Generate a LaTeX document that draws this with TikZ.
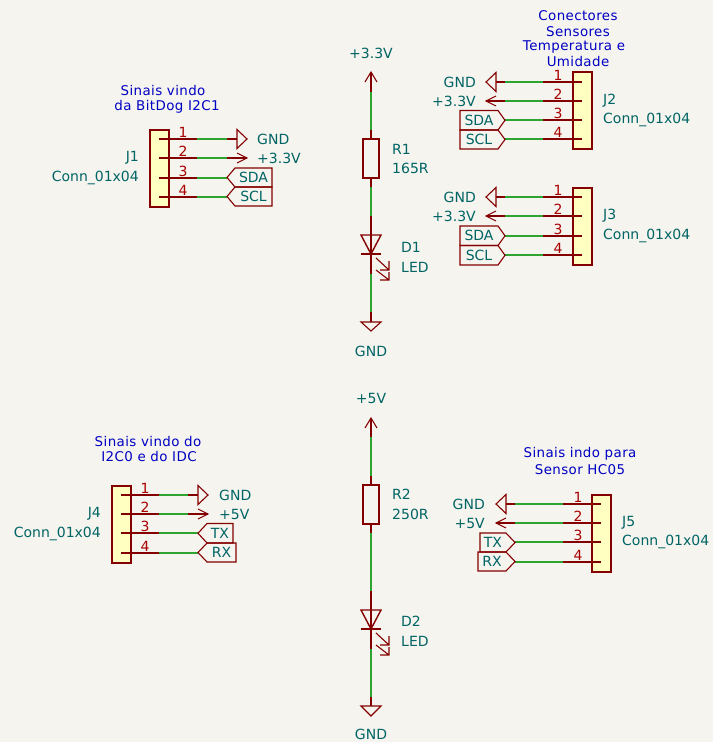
\documentclass[tikz,border=0pt]{standalone}
\usepackage{fontspec}
\setmainfont{DejaVu Sans}
\newfontfamily\notefont[LetterSpace=3]{DejaVu Sans}
\definecolor{bgc}{HTML}{F5F4EF}
\definecolor{sym}{HTML}{840000}
\definecolor{wirec}{HTML}{2FA32F}
\definecolor{txt}{HTML}{006464}
\definecolor{note}{HTML}{0000C2}
\definecolor{pinn}{HTML}{A90000}
\definecolor{bodyf}{HTML}{FFFFC2}
\tikzset{
  lab/.style={text=txt,font=\fontsize{14}{14}\selectfont,inner sep=0pt},
  notetext/.style={text=note,font=\notefont\fontsize{13.4}{14}\selectfont,inner sep=0pt},
  pinnum/.style={text=pinn,font=\fontsize{14}{14}\selectfont,inner sep=0pt},
  symline/.style={draw=sym,line width=1.1pt,line join=miter},
  wire/.style={draw=wirec,line width=1.1pt},
  connbody/.style={draw=sym,fill=bodyf,line width=2pt,minimum width=19pt,minimum height=77pt,inner sep=0pt},
  resbody/.style={draw=sym,line width=1.7pt,minimum width=16pt,minimum height=39pt,inner sep=0pt},
}
% name, n, edge x, y, green-x1, green-x2, end x, stub x, num x
\newcommand\pinrun[9]{%
  \coordinate (#1p#2) at (#3,#4);
  \coordinate (#1s#2) at (#8,#4);
  \coordinate (#1a#2) at (#5,#4);
  \coordinate (#1b#2) at (#6,#4);
  \coordinate (#1e#2) at (#7,#4);
  \draw[symline] (#1s#2) -- (#1p#2);
  \draw[symline] (#1p#2) -- (#1a#2);
  \draw[wire] (#1a#2) -- (#1b#2);
  \draw[symline] (#1b#2) -- (#1e#2);
  \node[pinnum] (#1n#2) at (#9,{#4-7}) {#2};
}
\newcommand\gndside[4]{\draw[symline] (#2,{#3-9.5}) -- ({#2+#4*10},#3) -- (#2,{#3+9.5}) -- cycle;}
\newcommand\vccside[4]{\draw[symline] (#2,{#3-5}) -- ({#2+#4*10},#3) -- (#2,{#3+5}) (#2,#3) -- ({#2+#4*10},#3);}
\newcommand\tagleft[6]{%
  \draw[symline] (#1,{(#4+#5)/2}) -- (#2,#4) -- (#3,#4) -- (#3,#5) -- (#2,#5) -- cycle;
  \node[lab] at ({(#2+#3)/2},{(#4+#5)/2}) {#6};}
\newcommand\tagright[6]{%
  \draw[symline] (#1,#4) -- (#2,#4) -- (#3,{(#4+#5)/2}) -- (#2,#5) -- (#1,#5) -- cycle;
  \node[lab] at ({(#1+#2)/2},{(#4+#5)/2}) {#6};}
\begin{document}
\begin{tikzpicture}[x=1pt,y=-1pt]
\useasboundingbox[fill=bgc] (0,0) rectangle (713,742);

% ---- J1
\node[connbody] (J1) at (159.5,168) {};
\pinrun{J1}{1}{169}{139}{197}{227}{237}{159}{183}
\pinrun{J1}{2}{169}{158}{197}{227}{247}{159}{183}
\pinrun{J1}{3}{169}{178}{197}{227}{227}{159}{183}
\pinrun{J1}{4}{169}{197}{197}{227}{227}{159}{183}
\gndside{}{237}{139}{1}
\vccside{}{237}{158}{1}
\tagleft{227}{235}{272}{168}{187}{SDA}
\tagleft{227}{235}{272}{187}{206}{SCL}
\node[lab,anchor=west] (J1g) at (257,139) {GND};
\node[lab,anchor=west] (J1v) at (257,158) {+3.3V};
\node[lab,anchor=east] (J1r) at (139,158) {J1};
\node[lab,anchor=east] (J1t) at (139,178) {Conn\_01x04};
\node[notetext] (N1a) at (163,91) {Sinais vindo};
\node[notetext] (N1b) at (167,107) {da BitDog I2C1};

% ---- J2
\node[connbody] (J2) at (582,110.5) {};
\pinrun{J2}{1}{572}{82}{543}{505}{496}{582}{558}
\pinrun{J2}{2}{572}{101}{543}{505}{486}{582}{558}
\pinrun{J2}{3}{572}{120}{543}{505}{505}{582}{558}
\pinrun{J2}{4}{572}{139}{543}{505}{505}{582}{558}
\gndside{}{496}{82}{-1}
\vccside{}{496}{101}{-1}
\tagright{460}{498}{505}{110.5}{130}{SDA}
\tagright{460}{498}{505}{130}{149}{SCL}
\node[lab,anchor=east] (J2g) at (476,82) {GND};
\node[lab,anchor=east] (J2v) at (476,101) {+3.3V};
\node[lab,anchor=west] (J2r) at (603,101) {J2};
\node[lab,anchor=west] (J2t) at (603,120) {Conn\_01x04};
\node[notetext] (N2a) at (578,16) {Conectores};
\node[notetext] (N2b) at (578,32) {Sensores};
\node[notetext] (N2c) at (574,47) {Temperatura e};
\node[notetext] (N2d) at (578,62) {Umidade};

% ---- J3
\node[connbody] (J3) at (582,226) {};
\pinrun{J3}{1}{572}{197}{543}{505}{496}{582}{558}
\pinrun{J3}{2}{572}{216}{543}{505}{486}{582}{558}
\pinrun{J3}{3}{572}{236}{543}{505}{505}{582}{558}
\pinrun{J3}{4}{572}{255}{543}{505}{505}{582}{558}
\gndside{}{496}{197}{-1}
\vccside{}{496}{216}{-1}
\tagright{460}{498}{505}{226}{245.5}{SDA}
\tagright{460}{498}{505}{245.5}{265}{SCL}
\node[lab,anchor=east] (J3g) at (476,197) {GND};
\node[lab,anchor=east] (J3v) at (476,216) {+3.3V};
\node[lab,anchor=west] (J3r) at (603,216) {J3};
\node[lab,anchor=west] (J3t) at (603,236) {Conn\_01x04};

% ---- J4
\node[connbody] (J4) at (121,524) {};
\pinrun{J4}{1}{131}{495}{159}{188}{198}{121}{145}
\pinrun{J4}{2}{131}{514}{159}{188}{208}{121}{145}
\pinrun{J4}{3}{131}{533}{159}{198}{198}{121}{145}
\pinrun{J4}{4}{131}{553}{159}{198}{198}{121}{145}
\gndside{}{198}{495}{1}
\vccside{}{198}{514}{1}
\tagleft{198}{207}{233}{523.5}{543}{TX}
\tagleft{198}{207}{236}{543}{562}{RX}
\node[lab,anchor=west] (J4g) at (219,495) {GND};
\node[lab,anchor=west] (J4v) at (219,514) {+5V};
\node[lab,anchor=east] (J4r) at (101,514) {J4};
\node[lab,anchor=east] (J4t) at (101,534) {Conn\_01x04};
\node[notetext] (N4a) at (148,441) {Sinais vindo do};
\node[notetext] (N4b) at (149,456) {I2C0 e do IDC};

% ---- J5
\node[connbody] (J5) at (601,533.5) {};
\pinrun{J5}{1}{591}{504}{563}{515}{506}{601}{578}
\pinrun{J5}{2}{591}{523}{563}{515}{496}{601}{578}
\pinrun{J5}{3}{591}{542}{563}{515}{515}{601}{578}
\pinrun{J5}{4}{591}{562}{563}{515}{515}{601}{578}
\gndside{}{506}{504}{-1}
\vccside{}{506}{523}{-1}
\tagright{480}{506}{515}{533}{552}{TX}
\tagright{478}{506}{515}{552}{571}{RX}
\node[lab,anchor=east] (J5g) at (485,504) {GND};
\node[lab,anchor=east] (J5v) at (485,523) {+5V};
\node[lab,anchor=west] (J5r) at (622,523) {J5};
\node[lab,anchor=west] (J5t) at (622,542) {Conn\_01x04};
\node[notetext] (N5a) at (580,454) {Sinais indo para};
\node[notetext] (N5b) at (580,470) {Sensor HC05};

% ---- R1 / D1
\node[resbody] (R1) at (371,158.5) {};
\coordinate (A1) at (371,72);
\coordinate (A2) at (371,92);
\coordinate (A3) at (371,130);
\coordinate (A4) at (371,187);
\coordinate (A5) at (371,216);
\coordinate (A6) at (371,254);
\coordinate (A7) at (371,274);
\coordinate (A8) at (371,312);
\coordinate (A9) at (371,322);
\draw[symline] (A1) -- (A2);
\draw[wire] (A2) -- (A3);
\draw[symline] (A3) -- (R1.north);
\draw[symline] (R1.south) -- (A4);
\draw[wire] (A4) -- (A5);
\draw[symline] (A5) -- (A6);
\draw[symline] (A6) -- (A7);
\draw[wire] (A7) -- (A8);
\draw[symline] (A8) -- (A9);
\draw[symline] (365,82) -- (371,72) -- (377,82);
\draw[symline,line width=1.4pt] (361,235) -- (381,235) -- (371,254) -- cycle;
\draw[symline,line width=1.4pt] (361,254) -- (381,254);
\draw[symline] (376,258) -- (389,270) (389,261) -- (389,270) -- (380,270);
\draw[symline] (376,270) -- (389,280) (389,272) -- (389,280) -- (380,280);
\draw[symline] (361,322) -- (381,322) -- (371,331) -- cycle;
\node[lab] (P1) at (371,53) {+3.3V};
\node[lab,anchor=west] (R1r) at (392,149) {R1};
\node[lab,anchor=west] (R1v) at (392,168) {165R};
\node[lab,anchor=west] (D1r) at (401,247) {D1};
\node[lab,anchor=west] (D1v) at (401,267) {LED};
\node[lab] (G1) at (371,351) {GND};

% ---- R2 / D2
\node[resbody] (R2) at (371,504.5) {};
\coordinate (B1) at (371,418);
\coordinate (B2) at (371,437);
\coordinate (B3) at (371,476);
\coordinate (B4) at (371,533);
\coordinate (B5) at (371,591);
\coordinate (B6) at (371,629);
\coordinate (B7) at (371,649);
\coordinate (B8) at (371,697);
\coordinate (B9) at (371,706);
\draw[symline] (B1) -- (B2);
\draw[wire] (B2) -- (B3);
\draw[symline] (B3) -- (R2.north);
\draw[symline] (R2.south) -- (B4);
\draw[wire] (B4) -- (B5);
\draw[symline] (B5) -- (B6);
\draw[symline] (B6) -- (B7);
\draw[wire] (B7) -- (B8);
\draw[symline] (B8) -- (B9);
\draw[symline] (365,428) -- (371,418) -- (377,428);
\draw[symline,line width=1.4pt] (361,610) -- (381,610) -- (371,629) -- cycle;
\draw[symline,line width=1.4pt] (361,629) -- (381,629);
\draw[symline] (376,633) -- (389,645) (389,636) -- (389,645) -- (380,645);
\draw[symline] (376,645) -- (389,655) (389,647) -- (389,655) -- (380,655);
\draw[symline] (361,706) -- (381,706) -- (371,716) -- cycle;
\node[lab] (P2) at (371,398) {+5V};
\node[lab,anchor=west] (R2r) at (392,494) {R2};
\node[lab,anchor=west] (R2v) at (392,514) {250R};
\node[lab,anchor=west] (D2r) at (401,621) {D2};
\node[lab,anchor=west] (D2v) at (401,641) {LED};
\node[lab] (G2) at (371,734) {GND};
\end{tikzpicture}
\end{document}
